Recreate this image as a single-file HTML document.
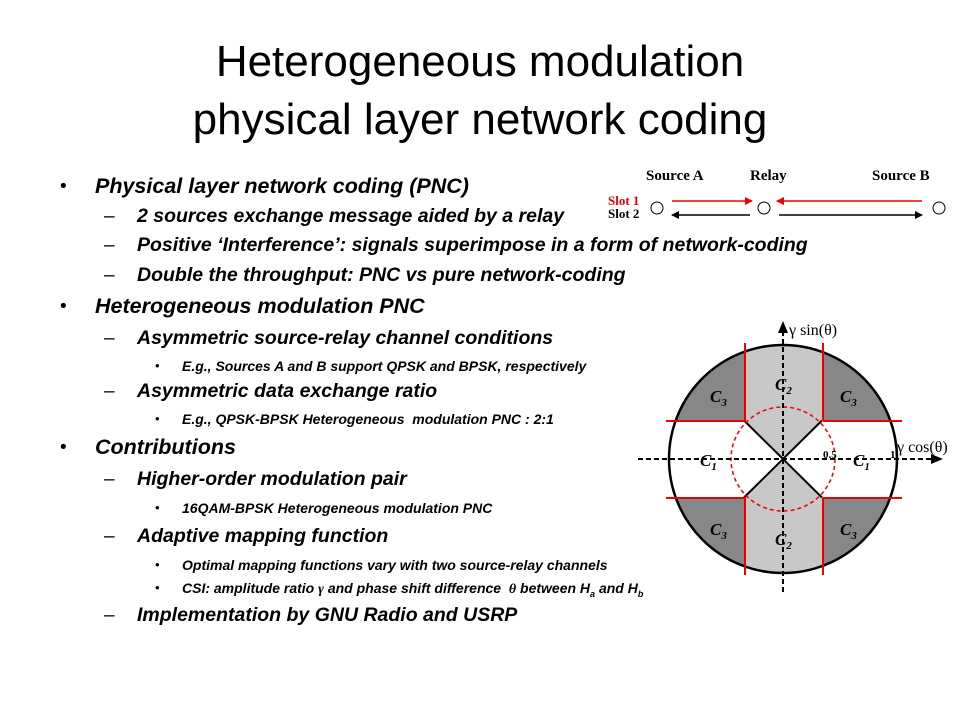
<!DOCTYPE html>
<html><head><meta charset="utf-8"><style>
body{margin:0;width:960px;height:720px;background:#fff;overflow:hidden;position:relative;font-family:"Liberation Sans",sans-serif;color:#000}
.t{position:absolute;left:0;width:960px;text-align:center;font-size:44px;line-height:50px}
.l{position:absolute;white-space:nowrap;font-style:italic;font-weight:bold;line-height:1}
.a{font-size:21.5px}.b{font-size:19.5px}.c{font-size:14px}
.bu{position:absolute;font-size:19px;line-height:1}
.d{position:absolute;font-size:19px;line-height:1}
.s{position:absolute;font-size:13px;line-height:1}
</style></head><body>
<div class="t" style="top:37px">Heterogeneous modulation</div>
<div class="t" style="top:95px">physical layer network coding</div>

<div class="bu" style="left:60px;top:177px">•</div>
<div class="l a" style="left:95px;top:176px">Physical layer network coding (PNC)</div>
<div class="d" style="left:104px;top:207px">–</div><div class="l b" style="left:137px;top:207px">2 sources exchange message aided by a relay</div>
<div class="d" style="left:104px;top:236px">–</div><div class="l b" style="left:137px;top:236px">Positive ‘Interference’: signals superimpose in a form of network-coding</div>
<div class="d" style="left:104px;top:266px">–</div><div class="l b" style="left:137px;top:266px">Double the throughput: PNC vs pure network-coding</div>
<div class="bu" style="left:60px;top:297px">•</div>
<div class="l a" style="left:95px;top:296px">Heterogeneous modulation PNC</div>
<div class="d" style="left:104px;top:329px">–</div><div class="l b" style="left:137px;top:329px">Asymmetric source-relay channel conditions</div>
<div class="s" style="left:155px;top:359px">•</div><div class="l c" style="left:182px;top:359px">E.g., Sources A and B support QPSK and BPSK, respectively</div>
<div class="d" style="left:104px;top:382px">–</div><div class="l b" style="left:137px;top:382px">Asymmetric data exchange ratio</div>
<div class="s" style="left:155px;top:412px">•</div><div class="l c" style="left:182px;top:412px">E.g., QPSK-BPSK Heterogeneous&nbsp; modulation PNC : 2:1</div>
<div class="bu" style="left:60px;top:438px">•</div>
<div class="l a" style="left:95px;top:437px">Contributions</div>
<div class="d" style="left:104px;top:470px">–</div><div class="l b" style="left:137px;top:470px">Higher-order modulation pair</div>
<div class="s" style="left:155px;top:501px">•</div><div class="l c" style="left:182px;top:501px">16QAM-BPSK Heterogeneous modulation PNC</div>
<div class="d" style="left:104px;top:527px">–</div><div class="l b" style="left:137px;top:527px">Adaptive mapping function</div>
<div class="s" style="left:155px;top:558px">•</div><div class="l c" style="left:182px;top:558px">Optimal mapping functions vary with two source-relay channels</div>
<div class="s" style="left:155px;top:581px">•</div><div class="l c" style="left:182px;top:581px">CSI: amplitude ratio <span style="font-family:'Liberation Serif'">γ</span> and phase shift difference&nbsp; <span style="font-family:'Liberation Serif'">θ</span> between H<sub style="font-size:9px">a</sub> and H<sub style="font-size:9px">b</sub></div>
<div class="d" style="left:104px;top:606px">–</div><div class="l b" style="left:137px;top:606px">Implementation by GNU Radio and USRP</div>

<svg width="960" height="720" style="position:absolute;left:0;top:0" font-family="Liberation Serif">
<defs>
<marker id="ar" markerWidth="8" markerHeight="8" refX="7" refY="4" orient="auto" markerUnits="userSpaceOnUse"><path d="M0,0L8,4L0,8z" fill="#e00"/></marker>
<marker id="ak" markerWidth="8" markerHeight="8" refX="7" refY="4" orient="auto" markerUnits="userSpaceOnUse"><path d="M0,0L8,4L0,8z" fill="#000"/></marker>
<marker id="ax" markerWidth="12" markerHeight="10" refX="11" refY="5" orient="auto" markerUnits="userSpaceOnUse"><path d="M0,0L12,5L0,10z" fill="#000"/></marker>
<clipPath id="cc"><circle cx="783" cy="459" r="114"/></clipPath>
</defs>
<g font-weight="bold" font-size="15">
<text x="646" y="180">Source A</text><text x="750" y="180">Relay</text><text x="872" y="180">Source B</text>
</g>
<text x="608" y="205" font-size="13" font-weight="bold" fill="#e00">Slot 1</text>
<text x="608" y="218" font-size="13" font-weight="bold">Slot 2</text>
<circle cx="657" cy="208" r="6" fill="#fff" stroke="#000"/>
<circle cx="764" cy="208" r="6" fill="#fff" stroke="#000"/>
<circle cx="939" cy="208" r="6" fill="#fff" stroke="#000"/>
<line x1="672" y1="201" x2="752" y2="201" stroke="#e00" stroke-width="1.5" marker-end="url(#ar)"/>
<line x1="922" y1="201" x2="777" y2="201" stroke="#e00" stroke-width="1.5" marker-end="url(#ar)"/>
<line x1="750" y1="215" x2="672" y2="215" stroke="#000" stroke-width="1.5" marker-end="url(#ak)"/>
<line x1="779" y1="215" x2="922" y2="215" stroke="#000" stroke-width="1.5" marker-end="url(#ak)"/>
<g clip-path="url(#cc)">
<rect x="660" y="340" width="250" height="240" fill="#878787"/>
<rect x="660" y="420.5" width="250" height="77" fill="#fff"/>
<rect x="744" y="340" width="78" height="240" fill="#c8c8c8"/>
<polygon points="783,459 744,420.5 744,497.5" fill="#fff"/>
<polygon points="783,459 822,420.5 822,497.5" fill="#fff"/>
</g>
<circle cx="783" cy="459" r="114" fill="none" stroke="#000" stroke-width="2.5"/>
<line x1="744" y1="420.5" x2="822" y2="497.5" stroke="#000" stroke-width="2"/>
<line x1="822" y1="420.5" x2="744" y2="497.5" stroke="#000" stroke-width="2"/>
<circle cx="783" cy="459" r="52" fill="none" stroke="#e00" stroke-width="1.5" stroke-dasharray="4,3"/>
<g stroke="#e00" stroke-width="2">
<line x1="745" y1="343" x2="745" y2="420.5"/><line x1="823" y1="343" x2="823" y2="420.5"/>
<line x1="745" y1="497.5" x2="745" y2="575"/><line x1="823" y1="497.5" x2="823" y2="575"/>
<line x1="666" y1="421" x2="745" y2="421"/><line x1="823" y1="421" x2="902" y2="421"/>
<line x1="666" y1="498" x2="745" y2="498"/><line x1="823" y1="498" x2="902" y2="498"/>
</g>
<line x1="638" y1="459" x2="942" y2="459" stroke="#000" stroke-width="2" stroke-dasharray="5,3" marker-end="url(#ax)"/>
<line x1="783" y1="592" x2="783" y2="322" stroke="#000" stroke-width="2" stroke-dasharray="5,3" marker-end="url(#ax)"/>
<g font-style="italic" font-weight="bold" font-size="17">
<text x="710" y="402">C<tspan font-size="11" dy="4">3</tspan></text>
<text x="840" y="402">C<tspan font-size="11" dy="4">3</tspan></text>
<text x="710" y="535">C<tspan font-size="11" dy="4">3</tspan></text>
<text x="840" y="535">C<tspan font-size="11" dy="4">3</tspan></text>
<text x="775" y="390">C<tspan font-size="11" dy="4">2</tspan></text>
<text x="775" y="545">C<tspan font-size="11" dy="4">2</tspan></text>
<text x="700" y="466">C<tspan font-size="11" dy="4">1</tspan></text>
<text x="853" y="466">C<tspan font-size="11" dy="4">1</tspan></text>
</g>
<text x="823" y="458" font-size="11" font-weight="bold">0.5</text>
<text x="890" y="458" font-size="11" font-weight="bold">1</text>
<text x="897" y="452" font-size="16">γ cos(θ)</text>
<text x="789" y="335" font-size="16">γ sin(θ)</text>
</svg>
</body></html>
